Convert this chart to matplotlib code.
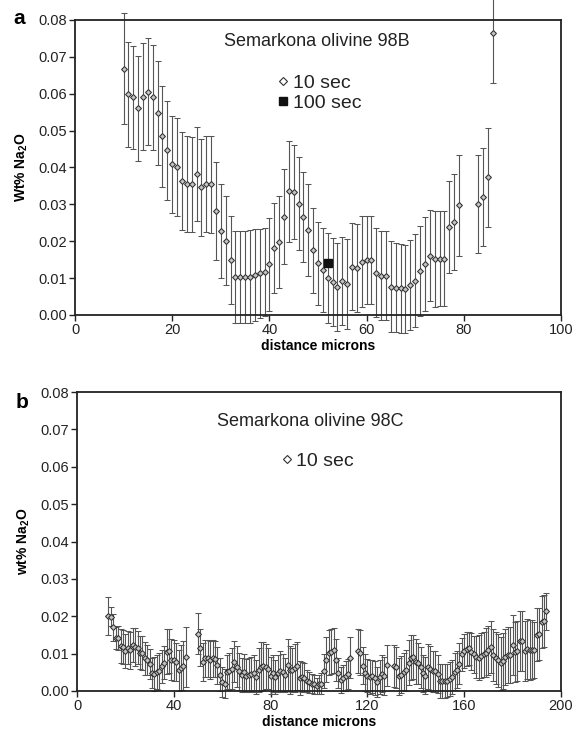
import matplotlib
matplotlib.use("Agg")
import matplotlib.pyplot as plt
from matplotlib.lines import Line2D

plt.rcParams['font.family'] = ['Liberation Sans', 'DejaVu Sans']
plt.rcParams['mathtext.fontset'] = 'custom'
plt.rcParams['mathtext.rm'] = 'Liberation Sans'
plt.rcParams['mathtext.bf'] = 'Liberation Sans:bold'

# ---------------- Panel a data (Semarkona olivine 98B) ----------------
a_dist = [10, 11, 12, 13, 14, 15, 16, 17, 18, 19, 20, 21, 22, 23, 24, 25, 26, 27, 28, 29,
          30, 31, 32, 33, 34, 35, 36, 37, 38, 39, 40, 41, 42, 43, 44, 45, 46, 47, 48, 49,
          50, 51, 52, 53, 54, 55, 56, 57, 58, 59, 60, 61, 62, 63, 64, 65, 66, 67, 68, 69,
          70, 71, 72, 73, 74, 75, 76, 77, 78, 79, 83, 84, 85, 86]
a_na2o = [0.0668, 0.0598, 0.0590, 0.0560, 0.0592, 0.0605, 0.0590, 0.0548, 0.0485, 0.0447,
          0.0409, 0.0401, 0.0363, 0.0356, 0.0354, 0.0383, 0.0346, 0.0356, 0.0354, 0.0283,
          0.0228, 0.0202, 0.0150, 0.0103, 0.0104, 0.0103, 0.0104, 0.0108, 0.0113, 0.0116,
          0.0137, 0.0183, 0.0198, 0.0267, 0.0336, 0.0333, 0.0302, 0.0267, 0.0231, 0.0176,
          0.0140, 0.0122, 0.0101, 0.0090, 0.0076, 0.0092, 0.0084, 0.0131, 0.0127, 0.0145,
          0.0149, 0.0149, 0.0115, 0.0107, 0.0107, 0.0077, 0.0074, 0.0072, 0.0070, 0.0081,
          0.0093, 0.0120, 0.0138, 0.0161, 0.0152, 0.0153, 0.0153, 0.0239, 0.0252, 0.0297,
          0.0301, 0.0321, 0.0373, 0.0765]
a_err = [0.0150, 0.0142, 0.0139, 0.0142, 0.0145, 0.0145, 0.0143, 0.0142, 0.0137, 0.0134,
         0.0132, 0.0132, 0.0132, 0.0130, 0.0130, 0.0127, 0.0131, 0.0130, 0.0131, 0.0133,
         0.0128, 0.0122, 0.0119, 0.0125, 0.0125, 0.0126, 0.0126, 0.0124, 0.0121, 0.0119,
         0.0125, 0.0122, 0.0125, 0.0128, 0.0137, 0.0127, 0.0127, 0.0122, 0.0124, 0.0115,
         0.0112, 0.0115, 0.0122, 0.0120, 0.0120, 0.0119, 0.0121, 0.0118, 0.0120, 0.0124,
         0.0120, 0.0120, 0.0120, 0.0120, 0.0120, 0.0124, 0.0120, 0.0120, 0.0120, 0.0122,
         0.0126, 0.0122, 0.0127, 0.0123, 0.0130, 0.0128, 0.0128, 0.0125, 0.0131, 0.0137,
         0.0132, 0.0133, 0.0135, 0.0137]
a100_dist = [52]
a100_na2o = [0.0140]
a100_err = [0.0008]

# ---------------- Panel b data (Semarkona olivine 98C) ----------------
b_dist = [13, 14, 15, 16, 17, 18, 19, 20, 21, 22, 23, 24, 25, 26, 27, 28, 29, 30, 31, 32,
          33, 34, 35, 36, 37, 38, 39, 40, 41, 42, 43, 44, 45,
          50, 51, 52, 53, 54, 55, 56, 57, 58, 59, 60, 61, 62, 63, 64, 65, 66, 67, 68, 69,
          70, 71, 72, 73, 74, 75, 76, 77, 78, 79, 80, 81, 82, 83, 84, 85, 86, 87, 88, 89,
          90, 91, 92, 93, 94, 95, 96, 97, 98, 99, 100, 101, 102, 103, 104, 105, 106, 107,
          108, 109, 110, 111, 112, 113,
          116, 117, 118, 119, 120, 121, 122, 123, 124, 125, 126, 127, 128,
          131, 132, 133, 134, 135, 136, 137, 138, 139, 140, 141, 142, 143, 144, 145, 146,
          147, 148, 149, 150, 151, 152, 153, 154, 155, 156, 157, 158, 159, 160, 161, 162,
          163, 164, 165, 166, 167, 168, 169, 170, 171, 172, 173, 174, 175, 176, 177, 178,
          179, 180, 181, 182, 183, 184, 185, 186, 187, 188, 189, 190, 191, 192, 193, 194]
b_na2o = [0.0201, 0.0199, 0.0170, 0.0142, 0.0142, 0.0121, 0.0117, 0.0107, 0.0116, 0.0109,
          0.0123, 0.0118, 0.0116, 0.0103, 0.0101, 0.0087, 0.0082, 0.0073, 0.0048, 0.0046,
          0.0051, 0.0053, 0.0066, 0.0076, 0.0105, 0.0107, 0.0084, 0.0082, 0.0078, 0.0055,
          0.0062, 0.0068, 0.0091,
          0.0153, 0.0116, 0.0078, 0.0087, 0.0087, 0.0083, 0.0087, 0.0085, 0.0069, 0.0044,
          0.0025, 0.0020, 0.0050, 0.0053, 0.0060, 0.0078, 0.0065, 0.0053, 0.0043, 0.0050,
          0.0041, 0.0043, 0.0045, 0.0047, 0.0038, 0.0056, 0.0065, 0.0067, 0.0065, 0.0060,
          0.0041, 0.0047, 0.0038, 0.0047, 0.0053, 0.0050, 0.0043, 0.0070, 0.0056, 0.0056,
          0.0062, 0.0067, 0.0034, 0.0038, 0.0036, 0.0027, 0.0023, 0.0020, 0.0018, 0.0014,
          0.0018, 0.0020, 0.0053, 0.0084, 0.0103, 0.0105, 0.0109, 0.0083,
          0.0047, 0.0029, 0.0034, 0.0041, 0.0046, 0.0089,
          0.0107, 0.0103, 0.0068, 0.0049, 0.0041, 0.0037, 0.0039, 0.0034, 0.0023, 0.0038,
          0.0046, 0.0040, 0.0069,
          0.0067, 0.0064, 0.0039, 0.0044, 0.0052, 0.0055, 0.0076, 0.0089, 0.0091, 0.0078,
          0.0074, 0.0064, 0.0047, 0.0041, 0.0065, 0.0060,
          0.0053, 0.0053, 0.0045, 0.0027, 0.0026, 0.0027, 0.0028, 0.0032, 0.0037, 0.0052,
          0.0057, 0.0073, 0.0098, 0.0107, 0.0112, 0.0114,
          0.0105, 0.0098, 0.0091, 0.0089, 0.0094, 0.0098, 0.0103, 0.0109, 0.0118, 0.0096,
          0.0089, 0.0082, 0.0074, 0.0080, 0.0092, 0.0096,
          0.0096, 0.0123, 0.0105, 0.0107, 0.0133, 0.0133, 0.0107, 0.0112, 0.0110, 0.0111,
          0.0110, 0.0151, 0.0153, 0.0185, 0.0187, 0.0213]
b_err = [0.0050, 0.0025, 0.0035, 0.0030, 0.0032, 0.0045, 0.0045, 0.0045, 0.0045, 0.0050,
         0.0045, 0.0050, 0.0045, 0.0045, 0.0045, 0.0045, 0.0040, 0.0040, 0.0040, 0.0045,
         0.0045, 0.0050, 0.0045, 0.0045, 0.0060, 0.0060, 0.0055, 0.0055, 0.0050, 0.0055,
         0.0060, 0.0065, 0.0080,
         0.0055, 0.0050, 0.0050, 0.0050, 0.0050, 0.0050, 0.0050, 0.0048, 0.0050, 0.0045,
         0.0040, 0.0040, 0.0045, 0.0050, 0.0055, 0.0055, 0.0055, 0.0050, 0.0045, 0.0050,
         0.0045, 0.0045, 0.0045, 0.0050, 0.0045, 0.0060, 0.0065, 0.0065, 0.0060, 0.0055,
         0.0050, 0.0050, 0.0045, 0.0050, 0.0055, 0.0050, 0.0045, 0.0070, 0.0065, 0.0060,
         0.0065, 0.0065, 0.0045, 0.0040, 0.0040, 0.0030, 0.0028, 0.0025, 0.0025, 0.0022,
         0.0025, 0.0028, 0.0045, 0.0060, 0.0060, 0.0060, 0.0060, 0.0055,
         0.0040, 0.0035, 0.0035, 0.0040, 0.0040, 0.0055,
         0.0060, 0.0060, 0.0050, 0.0050, 0.0045, 0.0045, 0.0045, 0.0045, 0.0040, 0.0045,
         0.0050, 0.0050, 0.0055,
         0.0055, 0.0055, 0.0050, 0.0050, 0.0050, 0.0055, 0.0060, 0.0060, 0.0060, 0.0060,
         0.0055, 0.0055, 0.0050, 0.0050, 0.0060, 0.0060,
         0.0055, 0.0055, 0.0050, 0.0045, 0.0045, 0.0045, 0.0045, 0.0045, 0.0045, 0.0050,
         0.0050, 0.0055, 0.0045, 0.0045, 0.0045, 0.0045,
         0.0050, 0.0050, 0.0055, 0.0060, 0.0060, 0.0060, 0.0065, 0.0065, 0.0070, 0.0070,
         0.0070, 0.0070, 0.0070, 0.0075, 0.0075, 0.0075,
         0.0075, 0.0080, 0.0080, 0.0080, 0.0080, 0.0080, 0.0080, 0.0080, 0.0080, 0.0080,
         0.0075, 0.0070, 0.0070, 0.0070, 0.0070, 0.0050]

y_ticks = [0.00, 0.01, 0.02, 0.03, 0.04, 0.05, 0.06, 0.07, 0.08]
a_xticks = [0, 20, 40, 60, 80, 100]
b_xticks = [0, 40, 80, 120, 160, 200]

W, H = 574, 737
fig = plt.figure(figsize=(W / 100, H / 100), dpi=100)

def px_axes(x0, y0, x1, y1):
    return fig.add_axes([x0 / W, 1 - y1 / H, (x1 - x0) / W, (y1 - y0) / H])

ax_a = px_axes(75, 20, 561, 315)
ax_b = px_axes(77, 392, 561, 691)

ebar_kw = dict(fmt='D', ms=3.0, mfc='#c4c4c4', mec='#303030', mew=0.75,
               ecolor='#555555', elinewidth=0.8, capsize=2.0, capthick=0.8)

def style(ax, xticks, xmax):
    ax.set_xlim(0, xmax)
    ax.set_ylim(0, 0.08)
    ax.set_xticks(xticks)
    ax.set_yticks(y_ticks)
    ax.set_yticklabels([f"{v:.2f}" for v in y_ticks])
    ax.tick_params(direction='out', length=4, width=1.0, labelsize=10.5,
                   colors='#222222', pad=1.5)
    for s in ax.spines.values():
        s.set_linewidth(1.3)
        s.set_color('#222222')
    ax.set_xlabel('distance microns', fontsize=10, fontweight='bold', labelpad=2)

# Panel a
eb = ax_a.errorbar(a_dist, a_na2o, yerr=a_err, **ebar_kw)
for art in eb.lines[1] + eb.lines[2]:
    art.set_clip_on(False)
eb.lines[0].set_clip_on(False)
eb2 = ax_a.errorbar(a100_dist, a100_na2o, yerr=a100_err, fmt='s', ms=6,
                    mfc='#111111', mec='#111111', ecolor='#111111',
                    elinewidth=0.9, capsize=2)
style(ax_a, a_xticks, 100)
ax_a.set_ylabel(r'Wt% Na$_\mathbf{2}$O', fontsize=10, fontweight='bold', labelpad=6)
ax_a.text(0.497, 0.926, 'Semarkona olivine 98B', transform=ax_a.transAxes,
          ha='center', va='center', fontsize=13, color='#222222')
h10 = Line2D([], [], ls='none', marker='D', ms=3.6, mfc='white', mec='#303030', mew=0.8)
h100 = Line2D([], [], ls='none', marker='s', ms=6, mfc='#111111', mec='#111111')
ax_a.legend([h10, h100], ['10 sec', '100 sec'], loc='upper left',
            bbox_to_anchor=(0.417, 0.817), frameon=False, fontsize=14,
            handlelength=0.6, handletextpad=0.2, borderpad=0, borderaxespad=0,
            labelspacing=0.15, labelcolor='#222222')

# Panel b
ebb = ax_b.errorbar(b_dist, b_na2o, yerr=b_err, **ebar_kw)
for art in ebb.lines[1] + ebb.lines[2]:
    art.set_clip_on(False)
style(ax_b, b_xticks, 200)
ax_b.set_ylabel(r'wt% Na$_\mathbf{2}$O', fontsize=10, fontweight='bold', labelpad=6)
ax_b.text(0.481, 0.903, 'Semarkona olivine 98C', transform=ax_b.transAxes,
          ha='center', va='center', fontsize=13, color='#222222')
ax_b.legend([h10], ['10 sec'], loc='upper left',
            bbox_to_anchor=(0.421, 0.798), frameon=False, fontsize=14,
            handlelength=0.6, handletextpad=0.2, borderpad=0, borderaxespad=0,
            labelcolor='#222222')

fig.text(19 / W, 1 - 18 / H, 'a', fontsize=15, fontweight='bold', ha='center', va='center')
fig.text(22 / W, 1 - 403 / H, 'b', fontsize=15, fontweight='bold', ha='center', va='center')

fig.savefig('out.png', dpi=100, facecolor='white')
